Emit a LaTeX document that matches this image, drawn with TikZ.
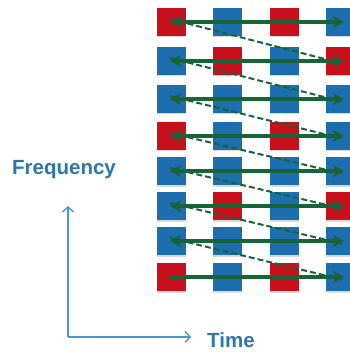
\documentclass[tikz,border=0pt]{standalone}
\usepackage{fontspec}
\newfontfamily\labfont{Liberation Sans}
\usetikzlibrary{arrows.meta,shadows}
\definecolor{sqred}{RGB}{200,16,28}
\definecolor{sqblue}{RGB}{28,110,174}
\definecolor{arrgreen}{RGB}{24,100,56}
\definecolor{axisblue}{RGB}{72,152,206}
\definecolor{txtblue}{RGB}{44,118,174}
\begin{document}
\begin{tikzpicture}[x=1pt,y=-1pt,
  cell/.style={minimum width=29pt,minimum height=28pt,inner sep=0pt,outer sep=0pt,
    drop shadow={shadow xshift=0pt,shadow yshift=-1.5pt,opacity=0.15,fill=black}},
  rc/.style={cell,fill=sqred},
  bc/.style={cell,fill=sqblue},
  scan/.style={draw=arrgreen,line width=3.5pt,{Stealth[length=11pt,width=12pt,inset=3pt]}-{Stealth[length=11pt,width=12pt,inset=3pt]}},
  scanlast/.style={draw=arrgreen,line width=3.5pt,-{Stealth[length=11pt,width=12pt,inset=3pt]}},
  retrace/.style={draw=arrgreen,line width=2pt,dash pattern=on 6pt off 3pt},
  axis/.style={draw=axisblue,line width=1.4pt,-{Straight Barb[length=5pt,width=11pt,line width=1.4pt]}},
  lab/.style={text=txtblue,inner sep=0pt,anchor=base west,font=\labfont\bfseries\fontsize{20.5}{25}\selectfont}]
\useasboundingbox (0,0) rectangle (349,352);
% column centres
\def\ca{171.5}\def\cb{227.8}\def\cc{284.1}\def\cd{340.4}
% rows: name/y-centre/colours
\foreach \r/\y/\a/\b/\c/\d in {1/22/rc/bc/rc/bc,2/61/bc/rc/bc/rc,3/99/bc/bc/bc/bc,4/136/rc/bc/rc/bc,5/171/bc/bc/bc/bc,6/206/bc/rc/bc/rc,7/241/bc/bc/bc/bc,8/277/rc/bc/rc/bc}{
  \node[\a] (s\r a) at (\ca,\y) {};
  \node[\b] (s\r b) at (\cb,\y) {};
  \node[\c] (s\r c) at (\cc,\y) {};
  \node[\d] (s\r d) at (\cd,\y) {};
  \coordinate (L\r) at (170,\y);
  \coordinate (R\r) at (344,\y);
}
% retrace (dashed) lines
\foreach \i/\j in {1/2,2/3,3/4,4/5,5/6,6/7,7/8}{
  \draw[retrace] ([yshift=3pt]L\i) -- ([yshift=-3pt]R\j);
}
% scan arrows
\foreach \r in {1,...,7}{
  \draw[scan] (L\r) -- (R\r);
}
\draw[scanlast] (L8) -- (R8);
% axes
\coordinate (O) at (68,337);
\coordinate (Ftip) at (68,206);
\coordinate (Ttip) at (191,337);
\draw[axis] (O) -- (Ftip);
\draw[axis] (O) -- (Ttip);
\node[lab] (freq) at (12,175) {Frequency};
\node[lab] (time) at (207,347) {Time};
\end{tikzpicture}
\end{document}
